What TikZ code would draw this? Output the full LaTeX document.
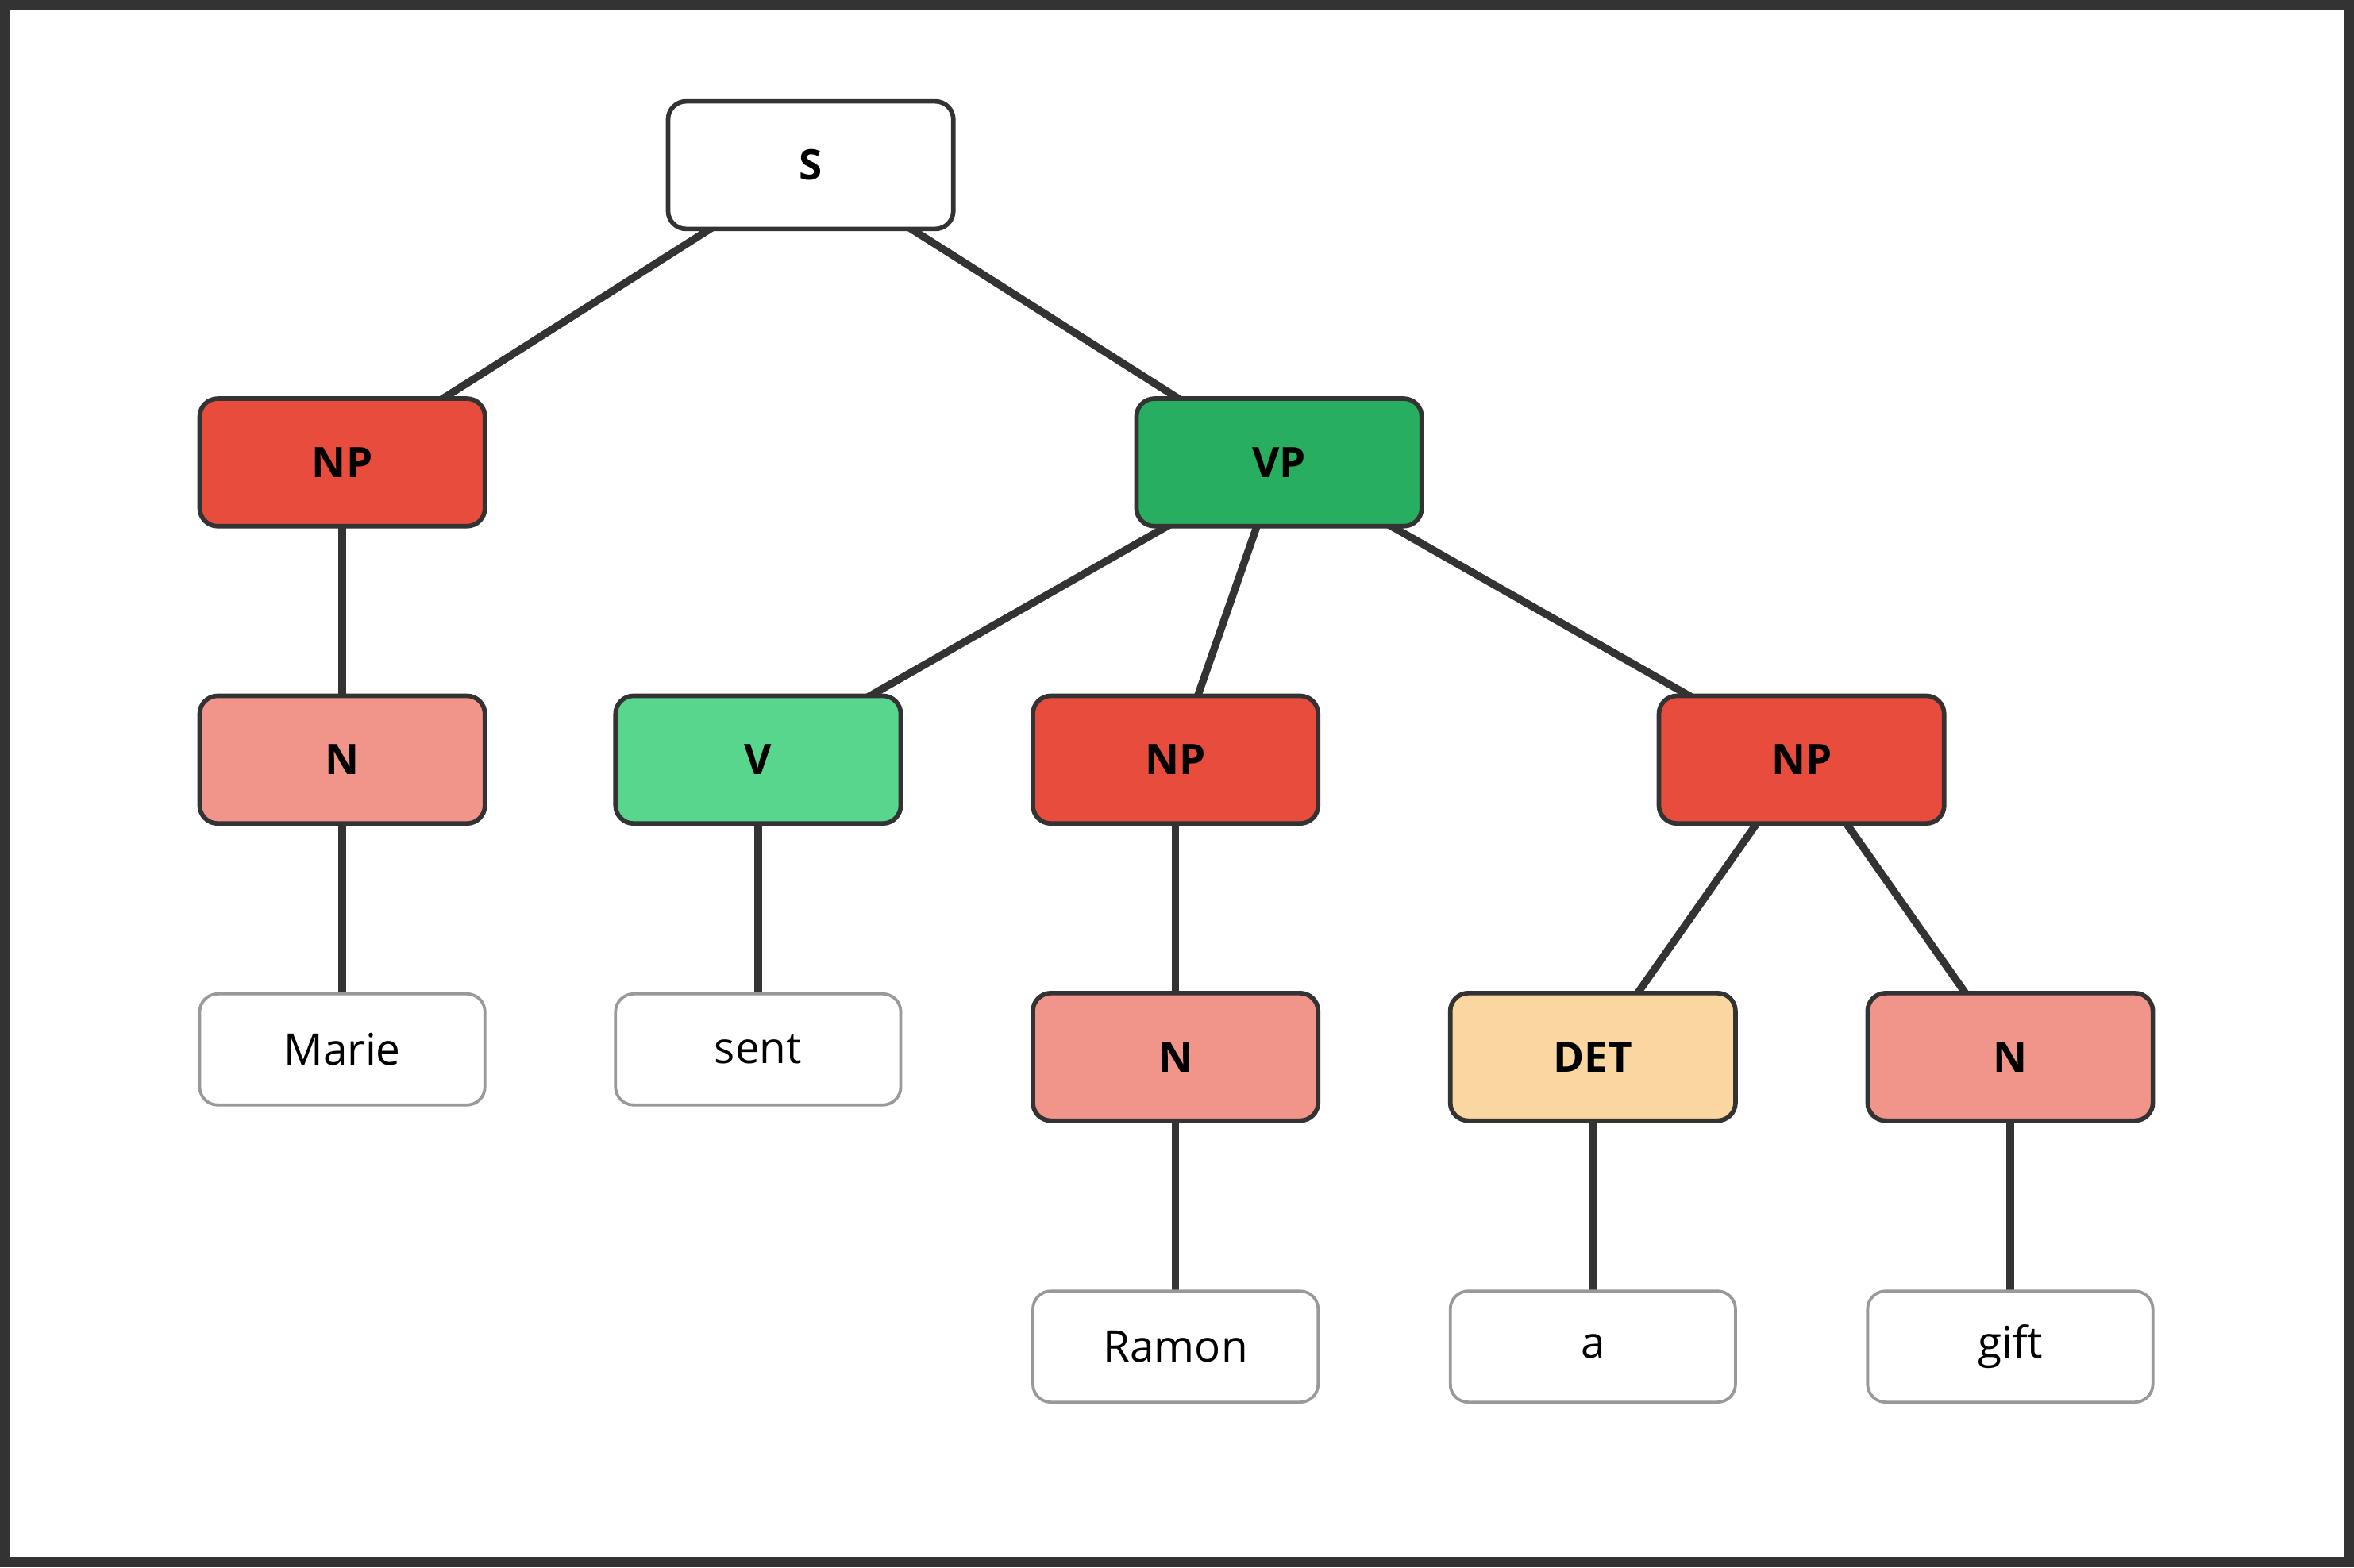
\documentclass[tikz,border=0pt]{standalone}
\usepackage{fontspec}
\setmainfont{Open Sans}
\usetikzlibrary{backgrounds}
\definecolor{dk}{HTML}{333333}
\definecolor{np}{HTML}{E74C3C}
\definecolor{vp}{HTML}{27AE60}
\definecolor{nn}{HTML}{F1948A}
\definecolor{vv}{HTML}{58D68D}
\definecolor{det}{HTML}{FAD7A0}
\tikzset{
 cat/.style={draw=dk,line width=3pt,rounded corners=12pt,minimum width=190pt,minimum height=85pt,font=\fontsize{28}{34}\selectfont\bfseries,inner sep=0pt},
 leaf/.style={draw=black!40,line width=2pt,fill=white,rounded corners=12pt,minimum width=190pt,minimum height=74pt,font=\fontsize{29}{34}\selectfont,inner sep=0pt},
 edge/.style={draw=dk,line width=5pt}
}
\begin{document}
\begin{tikzpicture}[x=1pt,y=-1pt]
\useasboundingbox (0,0) rectangle (1568,1044);
\draw[dk,line width=7pt] (3.5,3.5) rectangle (1564.5,1040.5);
\node[cat,fill=white] (S) at (540,110) {S};
\node[cat,fill=np] (NP1) at (228,308) {NP};
\node[cat,fill=vp] (VP) at (852,308) {VP};
\node[cat,fill=nn] (N1) at (228,506) {N};
\node[cat,fill=vv] (V) at (505,506) {V};
\node[cat,fill=np] (NP2) at (783,506) {NP};
\node[cat,fill=np] (NP3) at (1200,506) {NP};
\node[leaf] (L1) at (228,699) {Marie};
\node[leaf] (L2) at (505,699) {sent};
\node[cat,fill=nn] (N2) at (783,704) {N};
\node[cat,fill=det] (D) at (1061,704) {DET};
\node[cat,fill=nn] (N3) at (1339,704) {N};
\node[leaf] (L3) at (783,897) {Ramon};
\node[leaf] (L4) at (1061,897) {a};
\node[leaf] (L5) at (1339,897) {gift};
\begin{scope}[on background layer]
\foreach \a/\b in {S/NP1,S/VP,NP1/N1,VP/V,VP/NP2,VP/NP3,N1/L1,V/L2,NP2/N2,NP3/D,NP3/N3,N2/L3,D/L4,N3/L5}
  \draw[edge] (\a.center) -- (\b.center);
\end{scope}
\end{tikzpicture}
\end{document}
